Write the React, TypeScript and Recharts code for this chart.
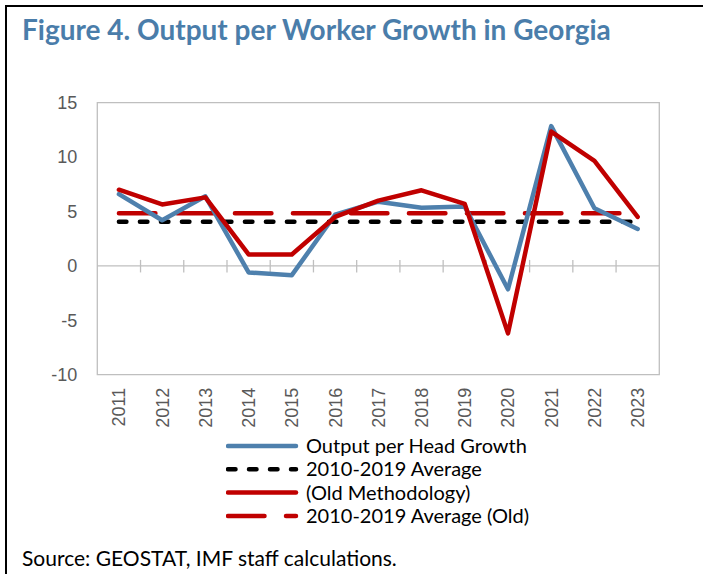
import { LineChart, Line, XAxis, YAxis, ReferenceArea, ReferenceLine, Legend } from 'recharts'

const years = [2011, 2012, 2013, 2014, 2015, 2016, 2017, 2018, 2019, 2020, 2021, 2022, 2023]
const outputPerHead = [6.6, 4.2, 6.4, -0.6, -0.85, 4.7, 5.9, 5.35, 5.45, -2.15, 12.85, 5.3, 3.4]
const average = [4.05, 4.05, 4.05, 4.05, 4.05, 4.05, 4.05, 4.05, 4.05, 4.05, 4.05, 4.05, 4.05]
const oldMethodology = [7.0, 5.65, 6.3, 1.05, 1.05, 4.5, 6.0, 6.95, 5.7, -6.2, 12.35, 9.65, 4.5]
const averageOld = [4.85, 4.85, 4.85, 4.85, 4.85, 4.85, 4.85, 4.85, 4.85, 4.85, 4.85, 4.85, 4.85]
const yTicks = [-10, -5, 0, 5, 10, 15]
const boundaries = [2011.5, 2012.5, 2013.5, 2014.5, 2015.5, 2016.5, 2017.5, 2018.5, 2019.5, 2020.5, 2021.5, 2022.5]

const series = [
  { key: 'outputPerHead', name: 'Output per Head Growth', color: '#4E80AD', dash: undefined },
  { key: 'average', name: '2010-2019 Average', color: '#000000', dash: '7.5 13.5' },
  { key: 'oldMethodology', name: '(Old Methodology)', color: '#C00000', dash: undefined },
  { key: 'averageOld', name: '2010-2019 Average (Old)', color: '#C00000', dash: '36.5 21.5' },
]

const data = years.map((year, i) => ({
  year,
  outputPerHead: outputPerHead[i],
  average: average[i],
  oldMethodology: oldMethodology[i],
  averageOld: averageOld[i],
}))

const GRAY = '#BFBFBF'
const TICK_FONT = '"Liberation Sans", Arial, sans-serif'
const TEXT_FONT = 'Lato, "Noto Sans", sans-serif'

function YearTick({ x, y, payload }: any) {
  return (
    <text
      x={x}
      y={y}
      transform={`rotate(-90 ${x} ${y})`}
      textAnchor="end"
      dy="0.36em"
      fill="#595959"
      fontSize={18}
      fontFamily={TICK_FONT}
    >
      {payload.value}
    </text>
  )
}

function LegendBox() {
  return (
    <svg width={330} height={96} style={{ display: 'block' }}>
      {series.map((s, i) => {
        const cy = 12 + i * 23.3
        return (
          <g key={s.key}>
            <line
              x1={2}
              x2={70}
              y1={cy}
              y2={cy}
              stroke={s.color}
              strokeWidth={4.5}
              strokeDasharray={s.dash}
              strokeLinecap="round"
            />
            <text x={80} y={cy} dy="0.35em" fontSize={20} fontFamily={TEXT_FONT} fill="#000">
              {s.name}
            </text>
          </g>
        )
      })}
    </svg>
  )
}

export default function App() {
  return (
    <div
      style={{
        position: 'absolute',
        left: 0,
        top: 0,
        width: 703,
        height: 574,
        background: '#fff',
        overflow: 'hidden',
      }}
    >
      <div
        style={{
          position: 'absolute',
          left: 5,
          top: 5,
          width: 700,
          height: 575,
          borderTop: '2.5px solid #000',
          borderLeft: '2.5px solid #000',
        }}
      />
      <div
        style={{
          position: 'absolute',
          left: 22,
          top: 12,
          fontFamily: TEXT_FONT,
          fontWeight: 700,
          fontSize: 28,
          color: '#4A7DAA',
          whiteSpace: 'nowrap',
        }}
      >
        Figure 4. Output per Worker Growth in Georgia
      </div>
      <div style={{ position: 'absolute', left: 0, top: 0 }}>
        <LineChart
          width={703}
          height={574}
          data={data}
          margin={{ top: 102.7, right: 43.7, left: 0, bottom: 139.3 }}
        >
          <ReferenceArea
            x1={2010.5}
            x2={2023.5}
            y1={-10}
            y2={15}
            fill="none"
            stroke={GRAY}
            strokeWidth={1.3}
          />
          <ReferenceLine y={0} stroke={GRAY} strokeWidth={1.3} />
          {boundaries.map((b) => (
            <ReferenceLine
              key={b}
              segment={[
                { x: b, y: -0.6 },
                { x: b, y: 0.55 },
              ]}
              stroke={GRAY}
              strokeWidth={1.3}
            />
          ))}
          <XAxis
            dataKey="year"
            type="number"
            domain={[2010.5, 2023.5]}
            ticks={years}
            interval={0}
            height={60}
            axisLine={false}
            tickLine={false}
            tickSize={0}
            tickMargin={13}
            tick={<YearTick />}
          />
          <YAxis
            type="number"
            domain={[-10, 15]}
            ticks={yTicks}
            width={97.3}
            axisLine={false}
            tickLine={false}
            tickSize={0}
            tickMargin={20}
            tick={{ fill: '#595959', fontSize: 18, fontFamily: TICK_FONT }}
          />
          <Line
            dataKey="average"
            name="2010-2019 Average"
            stroke="#000000"
            strokeWidth={4.5}
            strokeDasharray="7.5 13.5"
            strokeLinecap="round"
            dot={false}
            isAnimationActive={false}
          />
          <Line
            dataKey="averageOld"
            name="2010-2019 Average (Old)"
            stroke="#C00000"
            strokeWidth={4.5}
            strokeDasharray="36.5 21.5"
            strokeLinecap="round"
            dot={false}
            isAnimationActive={false}
          />
          <Line
            dataKey="outputPerHead"
            name="Output per Head Growth"
            stroke="#4E80AD"
            strokeWidth={4.5}
            strokeLinejoin="round"
            strokeLinecap="round"
            dot={false}
            isAnimationActive={false}
          />
          <Line
            dataKey="oldMethodology"
            name="(Old Methodology)"
            stroke="#C00000"
            strokeWidth={4.5}
            strokeLinejoin="round"
            strokeLinecap="round"
            dot={false}
            isAnimationActive={false}
          />
          <Legend
            layout="vertical"
            align="center"
            verticalAlign="middle"
            content={() => <LegendBox />}
            wrapperStyle={{ position: 'absolute', left: 226, top: 434, width: 330, height: 96 }}
          />
        </LineChart>
      </div>
      <div
        style={{
          position: 'absolute',
          left: 22,
          top: 545,
          fontFamily: TEXT_FONT,
          fontSize: 21,
          color: '#000',
          whiteSpace: 'nowrap',
        }}
      >
        Source: GEOSTAT, IMF staff calculations.
      </div>
    </div>
  )
}
